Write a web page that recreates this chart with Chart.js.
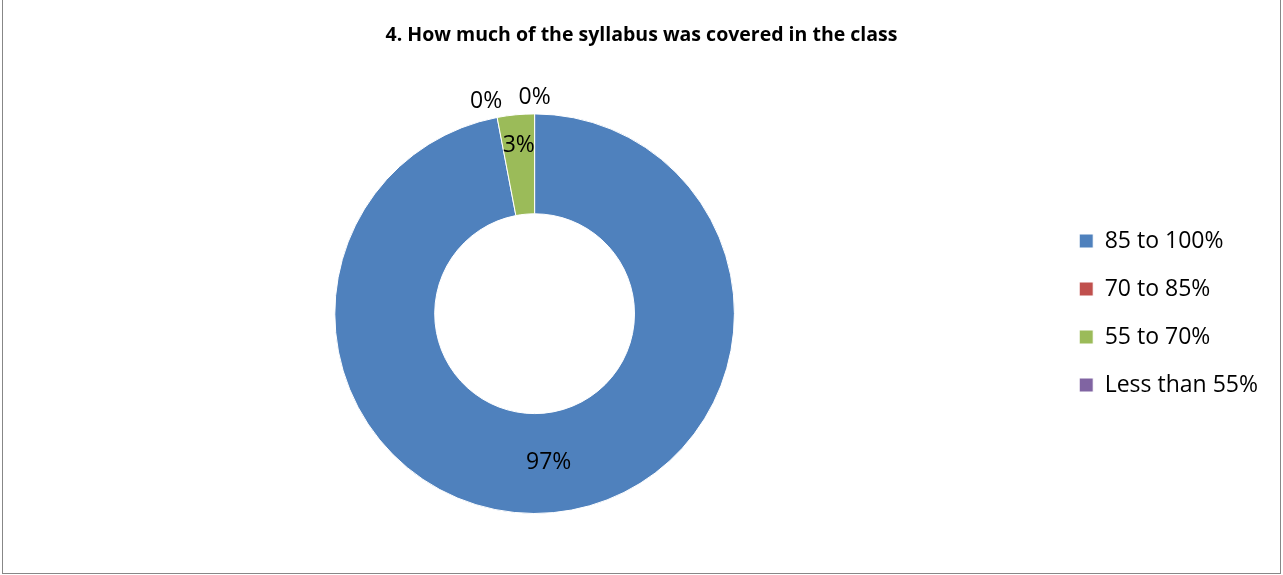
<!DOCTYPE html>
<html>
<head>
<meta charset="utf-8">
<script src="https://cdn.jsdelivr.net/npm/chart.js@4"></script>
<style>
  html, body { margin: 0; padding: 0; background: #fff; overflow: hidden; }
  #frame {
    position: absolute; left: 2px; top: -1px;
    width: 1277px; height: 573px;
    border: 1px solid #878787;
  }
  #chart { display: block; }
</style>
</head>
<body>
<div id="frame"><canvas id="chart" width="1277" height="573"></canvas></div>
<script>
// Data
const categories = ['85 to 100%', '70 to 85%', '55 to 70%', 'Less than 55%'];
const percents = [97, 0, 3, 0];
const colors = ['#4F81BD', '#C0504D', '#9BBB59', '#8064A2'];
const chartTitle = '4. How much of the syllabus was covered in the class';

const fontFamily = '"Open Sans", sans-serif';

// Draws the percentage next to / inside each slice
const sliceLabels = {
  id: 'sliceLabels',
  afterDatasetsDraw(chart) {
    const ctx = chart.ctx;
    const meta = chart.getDatasetMeta(0);
    ctx.save();
    ctx.font = '23px ' + fontFamily;
    ctx.fillStyle = '#000';
    ctx.textAlign = 'center';
    ctx.textBaseline = 'middle';
    meta.data.forEach((arc, i) => {
      const p = arc.getProps(['x', 'y', 'startAngle', 'endAngle', 'innerRadius', 'outerRadius']);
      const mid = (p.startAngle + p.endAngle) / 2;
      let r;
      if (percents[i] === 0) {
        r = p.outerRadius + 16;
      } else if (percents[i] < 10) {
        r = p.innerRadius + (p.outerRadius - p.innerRadius) * 0.69;
      } else {
        r = p.innerRadius + (p.outerRadius - p.innerRadius) * 0.5;
      }
      let x = p.x + Math.cos(mid) * r;
      // zero labels left of the top get pushed out sideways like Excel does
      if (percents[i] === 0 && Math.cos(mid) < -0.05) x -= 8;
      ctx.fillText(percents[i] + '%', x, p.y + Math.sin(mid) * r);
    });
    ctx.restore();
  }
};

new Chart(document.getElementById('chart'), {
  type: 'doughnut',
  data: {
    labels: categories,
    datasets: [{
      data: percents,
      backgroundColor: colors,
      borderColor: '#fff',
      borderWidth: 1
    }]
  },
  options: {
    responsive: false,
    animation: false,
    cutout: '50%',
    layout: { padding: { left: 12, right: 12, top: 0, bottom: 59 } },
    plugins: {
      title: {
        display: true,
        text: chartTitle,
        color: '#000',
        font: { family: fontFamily, size: 19.5, weight: 'bold' },
        padding: { top: 24, bottom: 66 }
      },
      legend: {
        position: 'right',
        // empty title only pushes the items down to the middle of the ring
        title: { display: true, text: ' ', font: { size: 12 }, padding: { top: 0, bottom: 97.6 } },
        labels: {
          color: '#000',
          font: { family: fontFamily, size: 23 },
          boxWidth: 14,
          boxHeight: 14,
          padding: 25
        }
      },
      tooltip: { enabled: false }
    }
  },
  plugins: [sliceLabels]
});
</script>
</body>
</html>
